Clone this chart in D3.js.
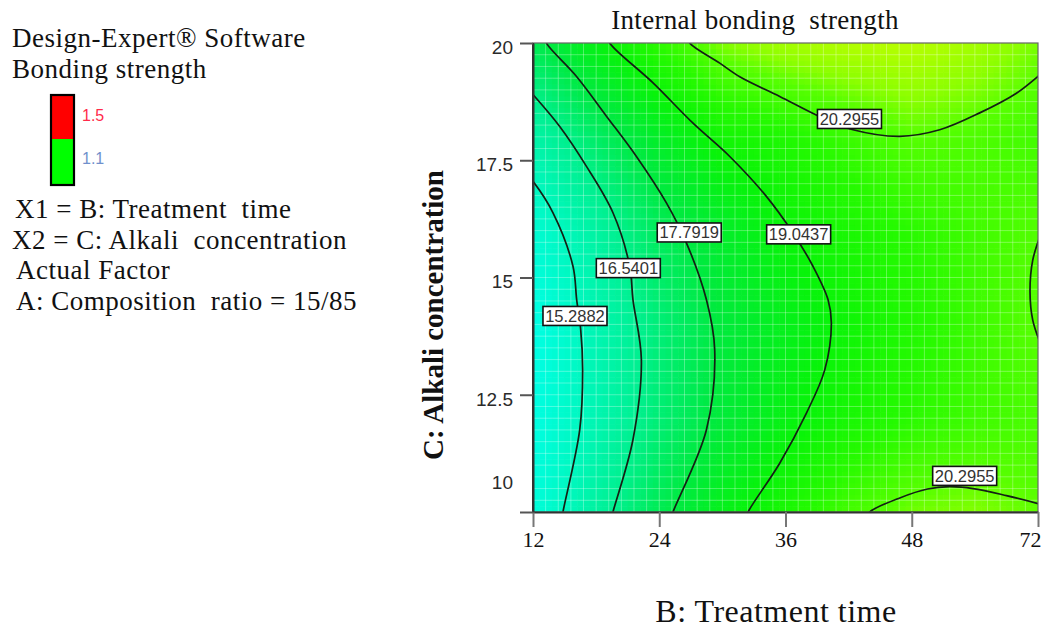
<!DOCTYPE html>
<html>
<head>
<meta charset="utf-8">
<script src="https://cdn.jsdelivr.net/npm/d3@7"></script>
<style>
  html, body { margin: 0; padding: 0; background: #fff; }
  svg { display: block; }
</style>
</head>
<body>
<svg id="chart" width="1042" height="630"></svg>
<script>
// ---------------- DATA ----------------
const chartTitle = "Internal bonding  strength";
const xTitle = "B: Treatment time";
const yTitle = "C: Alkali concentration";
const infoLines = ["Design-Expert\u00AE Software", "Bonding strength"];
const factorLines = ["X1 = B: Treatment  time", "X2 = C: Alkali  concentration", "Actual Factor", "A: Composition  ratio = 15/85"];
const legendLabels = ["1.5", "1.1"];

const xTickValues = [12, 24, 36, 48, 60];
const xTickLabels = ["12", "24", "36", "48", "72"];
const yTickValues = [10, 12.5, 15, 17.5, 20];
const yTickLabels = ["10", "12.5", "15", "17.5", "20"];

// estimated response grid (rows = alkali concentration, cols = treatment time)
const gridX = [12, 18, 24, 30, 36, 42, 48, 54, 60];
const gridY = [10, 12, 14, 16, 18, 20];
const gridZ = [
  [14.45, 16.12, 17.50, 18.62, 19.43, 20.08, 20.45, 20.55, 20.35],
  [14.20, 15.65, 16.95, 17.97, 18.78, 19.37, 19.75, 20.00, 20.15],
  [14.10, 15.63, 16.90, 17.90, 18.57, 19.15, 19.60, 19.97, 20.32],
  [14.70, 16.07, 17.37, 18.26, 19.02, 19.42, 19.75, 20.02, 20.25],
  [15.90, 17.19, 18.34, 19.25, 19.54, 19.95, 20.29, 20.20, 20.05],
  [17.50, 18.77, 19.81, 20.55, 20.85, 21.00, 21.05, 20.85, 20.50]
];

// contour lines: [treatment time, alkali concentration]
const contour15_2882 = [[11.8,17.1],[12.0,17.05],[13.9,16.38],[15.8,15.24],[16.15,14.53],[16.53,13.9],[16.72,13.03],[16.44,11.75],[14.85,10.0],[14.8,9.9]];
const contour16_5401 = [[11.8,18.95],[12.0,18.90],[14.54,18.22],[17.08,17.37],[19.6,16.38],[21.19,15.24],[21.5,14.53],[22.3,13.25],[21.5,11.54],[19.6,10.0],[19.5,9.9]];
const contour17_7919 = [[13.2,20.1],[13.27,20.0],[16.12,19.29],[18.98,18.44],[21.83,17.58],[24.68,16.59],[26.58,15.74],[28.48,14.53],[29.27,13.46],[28.48,11.75],[25.31,10.0],[25.2,9.9]];
const contour19_0437 = [[19.2,20.1],[19.29,20.0],[23.41,19.15],[27.21,18.29],[30.70,17.58],[34.18,16.73],[36.71,15.95],[38.61,15.24],[40.04,14.53],[40.36,14.03],[39.73,13.03],[37.99,12.11],[35.45,11.04],[32.44,10.0],[32.3,9.9]];
const contour20_2955a = [[26.8,20.1],[26.9,20.0],[29.75,19.57],[31.65,19.28],[35.45,18.86],[39.25,18.43],[42.42,18.15],[46.86,18.01],[50.66,18.15],[54.46,18.51],[57.95,18.93],[60.0,19.29],[60.3,19.35]];
const contour20_2955b = [[60.3,15.95],[59.5,15.37],[59.24,14.70],[59.5,14.09],[60.3,13.55]];
const contour20_2955c = [[43.8,9.9],[44.0,10.0],[46.86,10.30],[49.5,10.49],[51.6,10.54],[53.82,10.50],[57.0,10.35],[60.0,10.18],[60.3,10.16]];

const labelTexts = ["20.2955", "19.0437", "17.7919", "16.5401", "15.2882", "20.2955"];
const labelX = [42.08, 37.25, 26.85, 21.06, 15.99, 53.03];
const labelY = [18.38, 15.92, 15.96, 15.20, 14.18, 10.77];

// ---------------- DRAWING ----------------
const svg = d3.select("#chart");
const x = d3.scaleLinear().domain([12, 60]).range([533, 1038]);
const y = d3.scaleLinear().domain([10, 20]).range([512, 43]);

const color = d3.scaleLinear()
  .domain([14.1, 15.3, 16.5, 17.8, 19.0, 19.7, 20.3, 20.6, 21.05])
  .range(["#00ffe6", "#00f8c0", "#00f090", "#00ea40", "#08f408", "#26fa00", "#56ff00", "#8cff00", "#b8ff00"])
  .clamp(true);

// bilinear read of the response grid for filling the plot cells
function zAt(px, py) {
  const ix = d3.bisectRight(gridX, px) - 1;
  const iy = d3.bisectRight(gridY, py) - 1;
  const i0 = Math.max(0, Math.min(gridX.length - 2, ix));
  const j0 = Math.max(0, Math.min(gridY.length - 2, iy));
  const tx = (px - gridX[i0]) / (gridX[i0 + 1] - gridX[i0]);
  const ty = (py - gridY[j0]) / (gridY[j0 + 1] - gridY[j0]);
  const a = gridZ[j0][i0], b = gridZ[j0][i0 + 1], c = gridZ[j0 + 1][i0], d = gridZ[j0 + 1][i0 + 1];
  return a * (1 - tx) * (1 - ty) + b * tx * (1 - ty) + c * (1 - tx) * ty + d * tx * ty;
}

const defs = svg.append("defs");
defs.append("clipPath").attr("id", "plotclip")
  .append("rect").attr("x", x(12)).attr("y", y(20)).attr("width", x(60) - x(12)).attr("height", y(10) - y(20));

const plot = svg.append("g").attr("clip-path", "url(#plotclip)");

const N = 80;
const cells = [];
for (let i = 0; i < N; i++) {
  for (let j = 0; j < N; j++) {
    const cx0 = 12 + (i) * 48 / N, cx1 = 12 + (i + 1) * 48 / N;
    const cy0 = 10 + (j) * 10 / N, cy1 = 10 + (j + 1) * 10 / N;
    cells.push({ x0: cx0, x1: cx1, y0: cy0, y1: cy1, z: zAt((cx0 + cx1) / 2, (cy0 + cy1) / 2) });
  }
}
plot.append("g").selectAll("rect").data(cells).join("rect")
  .attr("x", d => x(d.x0))
  .attr("y", d => y(d.y1))
  .attr("width", d => x(d.x1) - x(d.x0) + 0.6)
  .attr("height", d => y(d.y0) - y(d.y1) + 0.6)
  .attr("fill", d => color(d.z));

// faint lighter mesh
const G = 40;
const mesh = plot.append("g").attr("stroke", "#ffffff").attr("stroke-opacity", 0.3).attr("stroke-width", 1);
for (let k = 1; k < G; k++) {
  const xv = 12 + k * 48 / G, yv = 10 + k * 10 / G;
  mesh.append("line").attr("x1", x(xv)).attr("x2", x(xv)).attr("y1", y(10)).attr("y2", y(20));
  mesh.append("line").attr("y1", y(yv)).attr("y2", y(yv)).attr("x1", x(12)).attr("x2", x(60));
}

// contour lines
const line = d3.line().x(d => x(d[0])).y(d => y(d[1])).curve(d3.curveCatmullRom.alpha(0.5));
const contours = [contour15_2882, contour16_5401, contour17_7919, contour19_0437, contour20_2955a, contour20_2955b, contour20_2955c];
plot.append("g").selectAll("path").data(contours).join("path")
  .attr("d", line)
  .attr("fill", "none")
  .attr("stroke", "#142014")
  .attr("stroke-width", 1.7);

// contour labels
const labels = svg.append("g").selectAll("g").data(labelTexts).join("g")
  .attr("transform", (d, i) => `translate(${x(labelX[i])},${y(labelY[i])})`);
labels.append("rect")
  .attr("x", -32).attr("y", -9.5).attr("width", 64).attr("height", 19)
  .attr("fill", "#ffffff").attr("stroke", "#111").attr("stroke-width", 1.6);
labels.append("text")
  .attr("text-anchor", "middle").attr("dy", "0.36em")
  .attr("font-family", "Arial, 'Liberation Sans', sans-serif").attr("font-size", 16.5)
  .attr("fill", "#333")
  .text(d => d);

// frame
svg.append("rect").attr("x", x(12)).attr("y", y(20)).attr("width", x(60) - x(12)).attr("height", y(10) - y(20))
  .attr("fill", "none").attr("stroke", "#666").attr("stroke-width", 1.2);
svg.append("line").attr("x1", x(12)).attr("x2", x(12)).attr("y1", y(20)).attr("y2", y(10)).attr("stroke", "#333").attr("stroke-width", 2);

const serif = "'Times New Roman', 'Liberation Serif', serif";

// axes
const xAxis = svg.append("g").attr("transform", `translate(0,${y(10)})`)
  .call(d3.axisBottom(x).tickValues(xTickValues).tickFormat((d, i) => xTickLabels[i]).tickSize(15).tickSizeOuter(0).tickPadding(4));
xAxis.select(".domain").attr("stroke", "#333").attr("stroke-width", 2);
xAxis.selectAll(".tick line").attr("stroke", "#777").attr("stroke-width", 2);
xAxis.selectAll(".tick text").attr("font-family", serif).attr("font-size", 22).attr("fill", "#111");
xAxis.selectAll(".tick").filter(d => d === 60).select("text").attr("text-anchor", "end").attr("x", 3);

const yAxis = svg.append("g").attr("transform", `translate(${x(12)},0)`)
  .call(d3.axisLeft(y).tickValues(yTickValues).tickFormat((d, i) => yTickLabels[i]).tickSize(13).tickSizeOuter(0).tickPadding(7));
yAxis.select(".domain").attr("stroke", "#333").attr("stroke-width", 2);
yAxis.selectAll(".tick line").attr("stroke", "#555").attr("stroke-width", 2);
yAxis.selectAll(".tick text").attr("font-family", "Arial, 'Liberation Sans', sans-serif").attr("font-size", 19).attr("fill", "#2a2a2a").attr("dy", "0.55em");
yAxis.selectAll(".tick").filter(d => d === 10).select("text").attr("dy", "-1.25em");

// titles
svg.append("text").attr("x", 755).attr("y", 29)
  .attr("text-anchor", "middle").attr("font-family", serif)
  .attr("font-size", 27).attr("letter-spacing", 0.3).attr("fill", "#111").style("white-space", "pre")
  .text(chartTitle);
svg.append("text").attr("x", 776).attr("y", 622)
  .attr("text-anchor", "middle").attr("font-family", serif)
  .attr("font-size", 32).attr("letter-spacing", 0.5).attr("fill", "#111").text(xTitle);
svg.append("text").attr("transform", "translate(443,315) rotate(-90)")
  .attr("text-anchor", "middle").attr("font-family", serif)
  .attr("font-size", 29).attr("font-weight", "bold").attr("fill", "#111").text(yTitle);

// left information block
svg.append("g").selectAll("text").data(infoLines).join("text")
  .attr("x", 12).attr("y", (d, i) => 47 + i * 31)
  .attr("font-family", serif).attr("font-size", 27).attr("letter-spacing", 0.5).attr("fill", "#111")
  .style("white-space", "pre").text(d => d);
svg.append("g").selectAll("text").data(factorLines).join("text")
  .attr("x", (d, i) => [15, 12, 16, 16][i]).attr("y", (d, i) => 218 + i * 30.5)
  .attr("font-family", serif).attr("font-size", 27).attr("letter-spacing", 0.5).attr("fill", "#111")
  .style("white-space", "pre").text(d => d);

// colour legend
const lg = svg.append("g");
lg.append("rect").attr("x", 51).attr("y", 95).attr("width", 23).attr("height", 44).attr("fill", "#ff0000");
lg.append("rect").attr("x", 51).attr("y", 139).attr("width", 23).attr("height", 46).attr("fill", "#00ff00");
lg.append("rect").attr("x", 51).attr("y", 95).attr("width", 23).attr("height", 90).attr("fill", "none").attr("stroke", "#000").attr("stroke-width", 2.2);
lg.selectAll("text.lv").data(legendLabels).join("text").attr("class", "lv")
  .attr("x", 82).attr("y", (d, i) => [121, 164][i])
  .attr("font-family", "Arial, 'Liberation Sans', sans-serif").attr("font-size", 16)
  .attr("fill", (d, i) => ["#ff2a4a", "#7090cc"][i]).text(d => d);
</script>
</body>
</html>
